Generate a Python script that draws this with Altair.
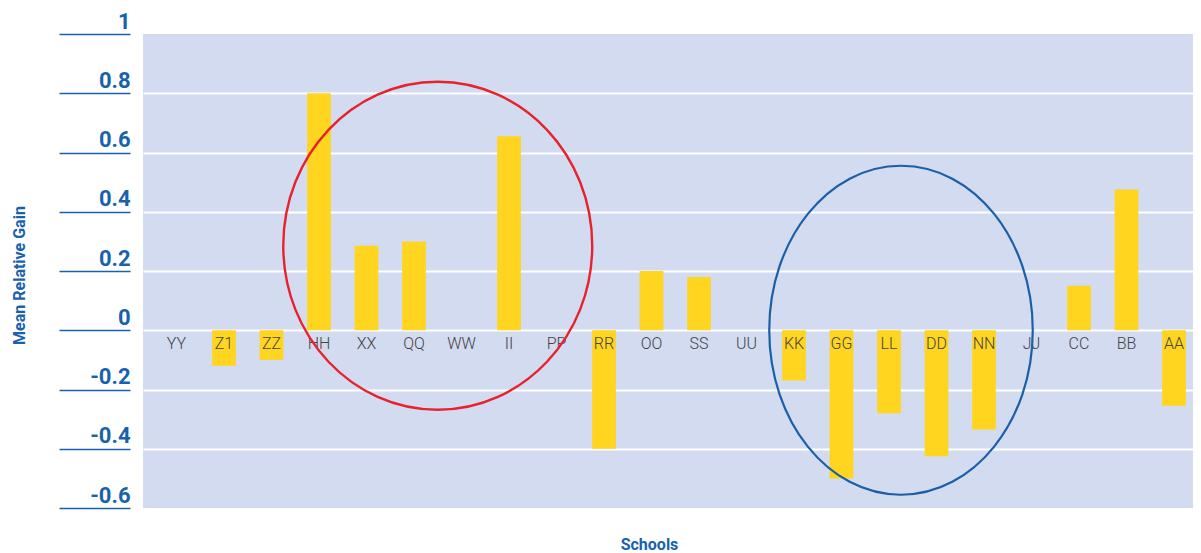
import altair as alt
import pandas as pd

# ---- data ----
schools = ["YY", "Z1", "ZZ", "HH", "XX", "QQ", "WW", "II", "PP", "RR", "OO",
           "SS", "UU", "KK", "GG", "LL", "DD", "NN", "JJ", "CC", "BB", "AA"]
gains = [0.0, -0.12, -0.10, 0.80, 0.285, 0.30, 0.0, 0.655, 0.0, -0.40, 0.20,
         0.18, 0.0, -0.17, -0.50, -0.28, -0.425, -0.335, 0.0, 0.15, 0.475, -0.255]
y_ticks = [1, 0.8, 0.6, 0.4, 0.2, 0, -0.2, -0.4, -0.6]

# circled groups: anchor school and centre value
red_anchor = ["QQ"]
red_center = [0.285]
blue_anchor = ["LL"]
blue_center = [0.0]

df = pd.DataFrame({"school": schools, "gain": gains})
red_df = pd.DataFrame({"school": red_anchor, "gain": red_center})
blue_df = pd.DataFrame({"school": blue_anchor, "gain": blue_center})

BLUE = "#1862ad"
BOLDFONT = "Roboto"
LABELFONT = "Roboto"

W, H = 1050, 474
x_scale = alt.Scale(domain=schools, paddingInner=0.5, paddingOuter=0.3026, align=0.752)
y_scale = alt.Scale(domain=[-0.6, 1], nice=False, zero=False)

y_axis = alt.Axis(
    values=y_ticks,
    labelExpr="toString(datum.value)",
    title="Mean Relative Gain",
    titleFont=BOLDFONT, titleFontSize=16, titleFontWeight="bold", titleColor=BLUE,
    titleAngle=270, titleBaseline="alphabetic", titleAlign="center",
    titleX=-106, titleY=241,
    labelFont=BOLDFONT, labelFontSize=22, labelFontWeight="bold", labelColor=BLUE,
    labelAlign="right", labelBaseline="alphabetic", labelOffset=-6,
    labelPadding=-71, labelFlush=False, labelOverlap=False,
    ticks=True, tickSize=71, tickColor=BLUE, tickWidth=1.5,
    domain=False, offset=13,
    grid=True, gridWidth=2,
    gridColor={"condition": {"test": "datum.value == 1 || datum.value == -0.6",
                             "value": "transparent"},
               "value": "#ffffff"},
)

x_axis = alt.Axis(
    labels=False, ticks=False, domain=False, grid=False,
    title="Schools", titleFont=BOLDFONT, titleFontSize=16, titleFontWeight="bold",
    titleColor=BLUE, titleBaseline="alphabetic", titleAlign="center",
    titleX=506, titleY=41,
)

bars = alt.Chart(df).mark_bar(color="#ffd520").encode(
    x=alt.X("school:N", scale=x_scale, axis=x_axis),
    y=alt.Y("gain:Q", scale=y_scale, axis=y_axis),
)

labels = alt.Chart(df).mark_text(
    baseline="alphabetic", dy=18.5, font=LABELFONT, fontSize=16,
    fontWeight=300, color="#444444"
).encode(
    x=alt.X("school:N"),
    y=alt.datum(0),
    text="school:N",
)

red_path = "M -0.942 0 A 0.942 1 0 1 1 0.942 0 A 0.942 1 0 1 1 -0.942 0 Z"
blue_path = "M -0.801 0 A 0.801 1 0 1 1 0.801 0 A 0.801 1 0 1 1 -0.801 0 Z"

red_ell = alt.Chart(red_df).mark_point(
    shape=red_path, size=328 * 328, filled=False, stroke="#e8222b",
    strokeWidth=2.4, opacity=1, xOffset=23.75
).encode(x=alt.X("school:N"), y=alt.Y("gain:Q"))

blue_ell = alt.Chart(blue_df).mark_point(
    shape=blue_path, size=329 * 329, filled=False, stroke="#1a5fa8",
    strokeWidth=2.2, opacity=1, xOffset=12
).encode(x=alt.X("school:N"), y=alt.Y("gain:Q"))

chart = alt.layer(bars, labels, red_ell, blue_ell).properties(
    width=W, height=H,
    padding={"left": 135, "top": 26, "right": 0, "bottom": 46},
    autosize=alt.AutoSizeParams(type="none"),
    background="#ffffff",
).configure_view(fill="#d2dbef", strokeWidth=0)

chart.save("out.html", embed_options={"renderer": "svg", "actions": False})
